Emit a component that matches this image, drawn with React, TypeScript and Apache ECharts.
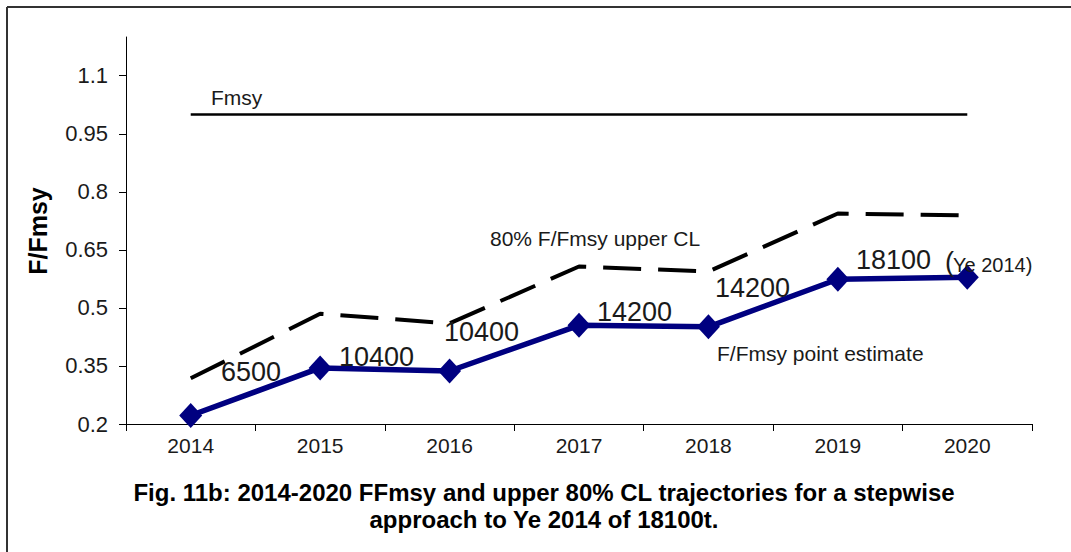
import React, { useEffect, useRef } from "react";
import * as echarts from "echarts";

const years = ["2014", "2015", "2016", "2017", "2018", "2019", "2020"];
const pointEstimate = [0.222, 0.345, 0.337, 0.455, 0.451, 0.574, 0.579];
const upperCL = [0.318, 0.485, 0.46, 0.607, 0.594, 0.744, 0.739];
const fmsy = [1.0, 1.0, 1.0, 1.0, 1.0, 1.0, 1.0];
const yTicks = [0.2, 0.35, 0.5, 0.65, 0.8, 0.95, 1.1];
const catchLabels = ["6500", "10400", "10400", "14200", "14200", "18100"];
const titleLines = [
  "Fig. 11b: 2014-2020 FFmsy and upper 80% CL trajectories for a stepwise",
  "approach to Ye 2014 of 18100t.",
];

const FONT = "'Liberation Sans', Arial, sans-serif";

export default function App() {
  const ref = useRef<HTMLDivElement>(null);
  useEffect(() => {
    if (!ref.current) return;
    const chart = echarts.init(ref.current, null, { renderer: "svg" });
    const catPos = [
      [221, 372],
      [339, 357],
      [444, 332],
      [597, 312],
      [715, 288],
      [856, 260],
    ];
    const txt = (x: number, y: number, text: string, size: number, extra: any = {}) => ({
      type: "text",
      x,
      y,
      style: {
        text,
        fontSize: size,
        fontFamily: FONT,
        fill: "#1a1a1a",
        verticalAlign: "middle",
        align: "left",
        ...extra,
      },
      z: 50,
    });
    const titleText = (y: number, text: string) => ({
      type: "text",
      x: 544,
      y,
      style: {
        text,
        fontSize: 24,
        fontWeight: "bold",
        fontFamily: FONT,
        fill: "#000",
        align: "center",
        verticalAlign: "middle",
      },
    });
    chart.setOption({
      animation: false,
      backgroundColor: "#ffffff",
      grid: { left: 126, top: 37, width: 906, height: 387, containLabel: false },
      xAxis: {
        type: "category",
        data: years,
        boundaryGap: true,
        axisLine: { lineStyle: { color: "#000", width: 1 } },
        axisTick: { show: true, length: 7, inside: false, lineStyle: { color: "#000" } },
        axisLabel: { fontSize: 21, fontFamily: FONT, color: "#1a1a1a", margin: 11 },
        splitLine: { show: false },
      },
      yAxis: {
        type: "value",
        min: 0.2,
        max: 1.2,
        interval: 0.15,
        axisLine: { show: true, lineStyle: { color: "#000", width: 1 } },
        axisTick: { show: true, length: 7, customValues: yTicks, lineStyle: { color: "#000" } },
        axisLabel: {
          fontSize: 22,
          fontFamily: FONT,
          color: "#1a1a1a",
          margin: 18,
          customValues: yTicks,
          formatter: (v: number) => String(Math.round(v * 100) / 100),
        },
        splitLine: { show: false },
      },
      series: [
        {
          name: "Fmsy",
          type: "line",
          data: fmsy,
          symbol: "none",
          lineStyle: { color: "#000", width: 2.5 },
          z: 2,
        },
        {
          name: "80% F/Fmsy upper CL",
          type: "line",
          data: upperCL,
          symbol: "none",
          lineStyle: { color: "#000", width: 4, type: [38, 17] },
          z: 3,
        },
        {
          name: "F/Fmsy point estimate",
          type: "line",
          data: pointEstimate,
          symbol: "diamond",
          symbolSize: [23, 25],
          itemStyle: { color: "#000080" },
          lineStyle: { color: "#000080", width: 5.5 },
          z: 4,
        },
      ],
      graphic: [
        {
          type: "line",
          shape: { x1: 7, y1: 7, x2: 1071, y2: 7 },
          style: { stroke: "#333", lineWidth: 2 },
        },
        {
          type: "line",
          shape: { x1: 7, y1: 7, x2: 7, y2: 552 },
          style: { stroke: "#333", lineWidth: 2 },
        },
        txt(211, 97, "Fmsy", 21),
        txt(490, 238, "80% F/Fmsy upper CL", 21),
        txt(717, 353, "F/Fmsy point estimate", 21),
        ...catchLabels.map((t, i) => txt(catPos[i][0], catPos[i][1], t, 27)),
        txt(945, 262, "(", 27),
        txt(953, 265, "Ye 2014)", 20),
        {
          type: "text",
          x: 38,
          y: 231,
          rotation: Math.PI / 2,
          style: {
            text: "F/Fmsy",
            fontSize: 25,
            fontWeight: "bold",
            fontFamily: FONT,
            fill: "#000",
            align: "center",
            verticalAlign: "middle",
          },
        },
        titleText(492, titleLines[0]),
        titleText(519, titleLines[1]),
      ],
    });
    return () => chart.dispose();
  }, []);
  return (
    <div
      ref={ref}
      style={{ position: "fixed", left: 0, top: 0, width: 1071, height: 552, background: "#fff" }}
    />
  );
}
